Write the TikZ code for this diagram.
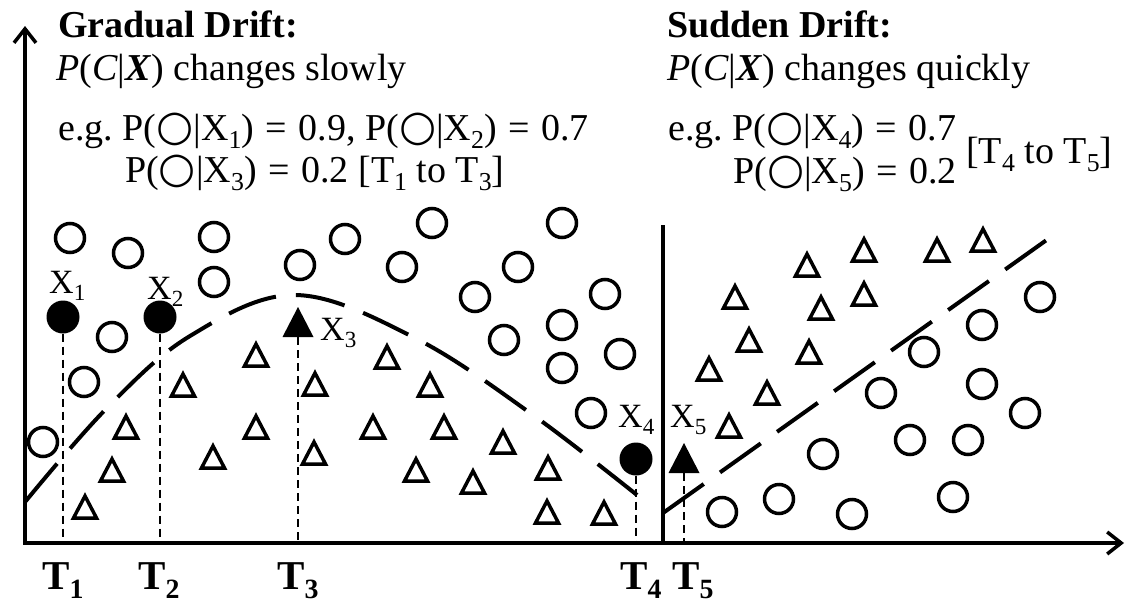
\documentclass[tikz,border=0pt]{standalone}
\usepackage{fontspec}
\setmainfont{Liberation Serif}
\newfontfamily\symfont{DejaVu Sans}
\usepackage{graphicx}
\usetikzlibrary{arrows.meta}
\newcommand\oc{\scalebox{1.12}{\symfont\char"25CB}}
\newcommand\sbs[1]{\raisebox{-0.22em}{\scalebox{0.68}{#1}}}
\newcommand\eqs{\hspace{0.06em} = \hspace{0.05em}}
\begin{document}
\begin{tikzpicture}[x=1pt,y=-1pt,
  axis/.style={line width=3.5pt},
  ocirc/.style={circle,draw,line width=3.5pt,minimum size=29pt,inner sep=0pt},
  fcirc/.style={circle,fill,minimum size=33pt,inner sep=0pt},
  tri/.pic={\draw[line width=3.5pt,line join=miter] (0,-11) -- (11.5,11) -- (-11.5,11) -- cycle;},
  ftri/.pic={\fill (0,-15) -- (15.5,15) -- (-15.5,15) -- cycle;},
  boundary/.style={line width=4pt,dash pattern=on 50pt off 20pt},
  tdash/.style={line width=2pt,dash pattern=on 8pt off 5pt},
  big/.style={font=\fontsize{38}{40}\selectfont,anchor=base west,inner sep=0pt},
  xlab/.style={font=\fontsize{34}{36}\selectfont,anchor=base west,inner sep=0pt},
  tlab/.style={font=\fontsize{41}{44}\selectfont\bfseries,anchor=base west,inner sep=0pt}]
\useasboundingbox (0,0) rectangle (1126,605);

% axes
\coordinate (o) at (25,543);
\coordinate (ytop) at (25,26);
\coordinate (xend) at (1124,543);
\draw[axis,{Straight Barb[length=14pt,width=22pt]}-{Straight Barb[length=14pt,width=22pt]}] (ytop) -- (o) -- (xend);
\coordinate (septop) at (663,225);
\draw[axis] (septop) -- (septop |- o);

% titles
\node[big,font=\fontsize{38}{40}\selectfont\bfseries] (gt) at (58,37) {Gradual Drift:};
\node[big] (gs) at (56,80) {\textit{P}(\textit{C}|\textbf{\textit{X}}) changes slowly};
\node[big] (ge1) at (58,140) {e.g.\ P(\oc|X\sbs{1})\eqs 0.9, P(\oc|X\sbs{2})\eqs 0.7};
\node[big] (ge2) at (125,182) {P(\oc|X\sbs{3})\eqs 0.2 [T\sbs{1} to T\sbs{3}]};
\node[big,font=\fontsize{38}{40}\selectfont\bfseries] (st) at (667,37) {Sudden Drift:};
\node[big] (ss) at (667,80) {\textit{P}(\textit{C}|\textbf{\textit{X}}) changes quickly};
\node[big] (se1) at (668,140) {e.g.\ P(\oc|X\sbs{4})\eqs 0.7};
\node[big] (se2) at (733,183) {P(\oc|X\sbs{5})\eqs 0.2};
\node[big] (se3) at (966,163) {[T\sbs{4} to T\sbs{5}]};

% boundaries
\draw[boundary] plot[smooth,tension=0.6] coordinates {(25,502) (106,409) (190,336) (295,295) (415,338) (533,415) (647,503)};
\draw[boundary] (663,513) -- (1048,239);

% open circles
\foreach \p [count=\i] in {(70,238),(128,253),(214,237),(214,282),(345,239),(300,265),(112,337),(84,382),(43,442),(432,223),(562,223),(402,267),(518,267),(475,297),(605,294),(562,325),(504,340),(620,354),(562,368),(591,413),
  (1040,297),(982,325),(924,352),(982,384),(881,393),(1025,413),(910,440),(968,440),(823,454),(722,512),(779,499),(852,514),(953,497)}
  \node[ocirc] (c\i) at \p {};

% open triangles
\foreach \p in {(256,355),(183,385),(315,384),(387,357),(430,385),(126,427),(112,470),(85,507),(213,457),(256,427),(314,453),(373,427),(444,427),(503,442),(416,470),(473,482),(548,468),(547,512),(604,513),
  (807,265),(864,250),(937,250),(983,240),(735,297),(821,308),(864,294),(749,340),(809,352),(709,369),(767,393),(729,426)}
  \pic at \p {tri};

% highlighted points
\node[fcirc] (x1) at (63,317) {};
\node[fcirc] (x2) at (160,317) {};
\node[fcirc] (x4) at (636,459) {};
\pic at (298,322) {ftri};
\coordinate (x3) at (298,337);
\pic at (684,458) {ftri};
\coordinate (x5) at (684,473);

\node[xlab] (lx1) at (49,293) {X\sbs{1}};
\node[xlab] (lx2) at (147,299) {X\sbs{2}};
\node[xlab] (lx3) at (320,340) {X\sbs{3}};
\node[xlab] (lx4) at (618,427) {X\sbs{4}};
\node[xlab] (lx5) at (670,427) {X\sbs{5}};

% time markers
\draw[tdash] (x1.south) -- (x1.south |- o);
\draw[tdash] (x2.south) -- (x2.south |- o);
\draw[tdash] (x3) -- (x3 |- o);
\draw[tdash] (x4.south) -- (x4.south |- o);
\draw[tdash] (x5) -- (x5 |- o);

\node[tlab] (t1) at (42,589) {T\sbs{1}};
\node[tlab] (t2) at (138,589) {T\sbs{2}};
\node[tlab] (t3) at (277,589) {T\sbs{3}};
\node[tlab] (t4) at (620,589) {T\sbs{4}};
\node[tlab] (t5) at (672,589) {T\sbs{5}};
\end{tikzpicture}
\end{document}
